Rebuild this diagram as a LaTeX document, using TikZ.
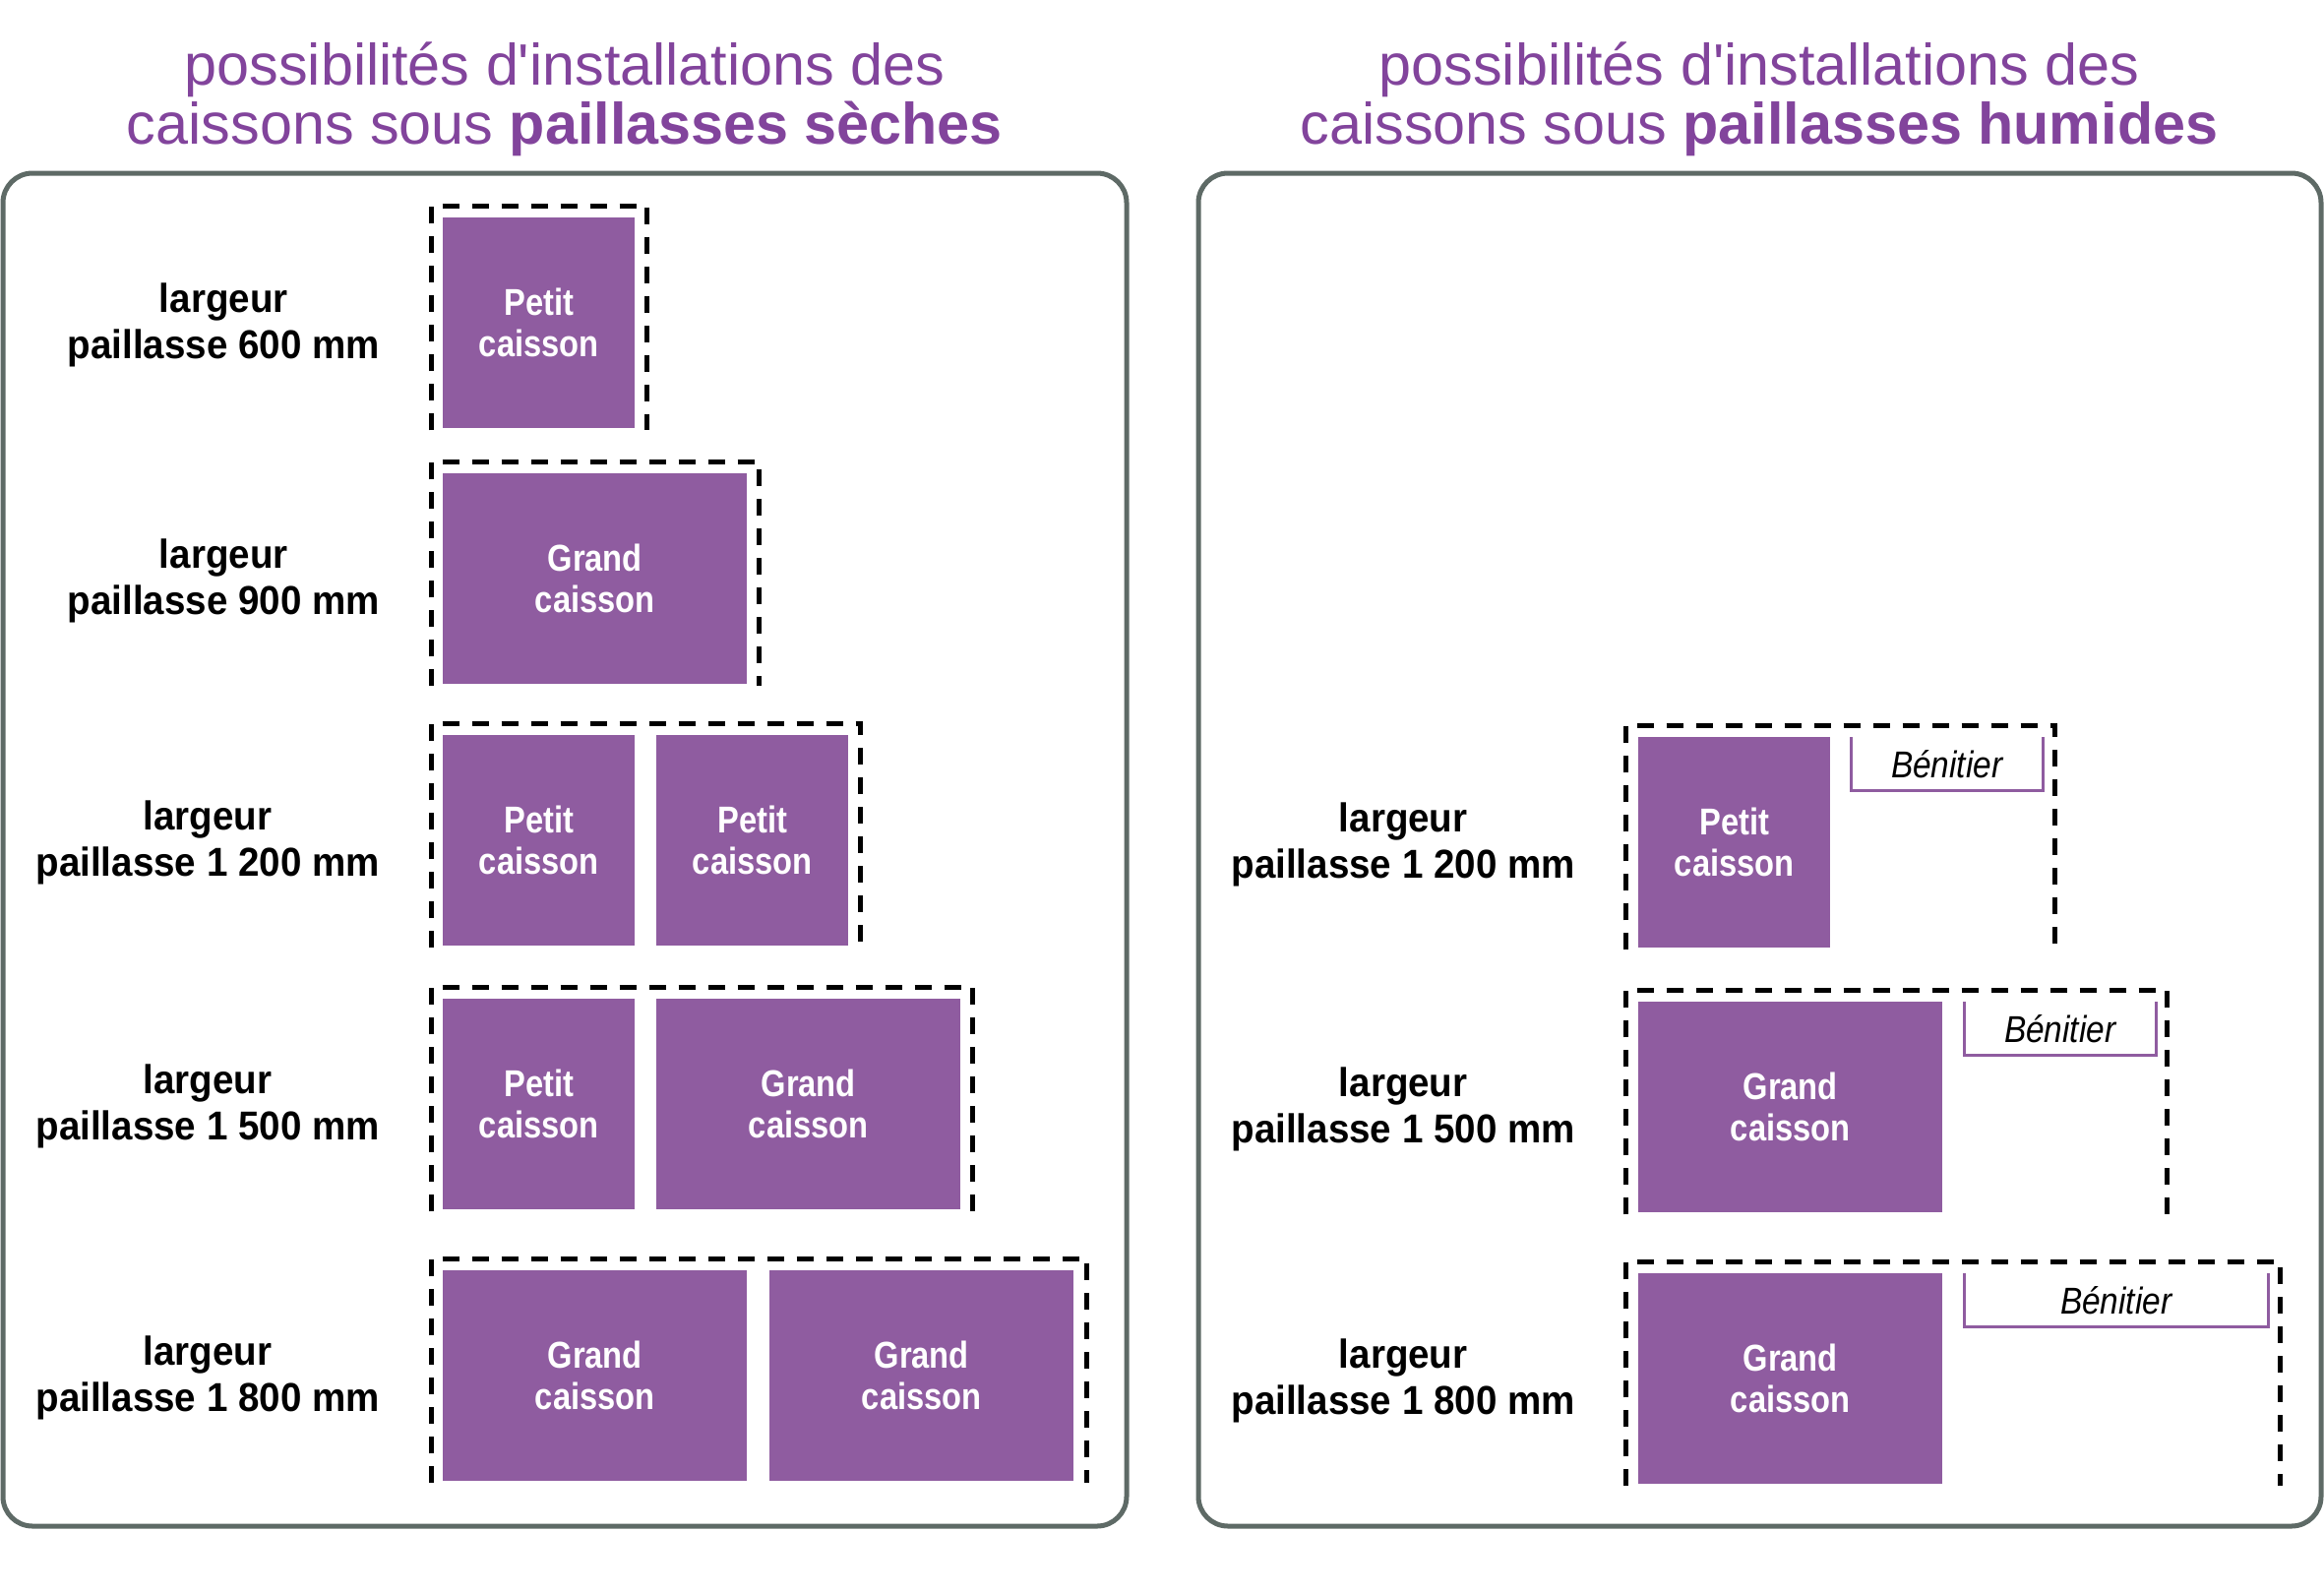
\documentclass[tikz,border=0pt]{standalone}
\usepackage{fontspec}
\setmainfont{Liberation Sans}
\newfontfamily\boxfont[FakeStretch=0.86]{Liberation Sans}
\newfontfamily\labfont[FakeStretch=0.94]{Liberation Sans}
\newfontfamily\benfont[FakeStretch=0.88]{Liberation Sans}
\usetikzlibrary{positioning}
\definecolor{caissonviolet}{HTML}{8F5CA0}
\definecolor{titreviolet}{HTML}{82449C}
\definecolor{cadregris}{HTML}{5E6A66}

\begin{document}
\begin{tikzpicture}[
  x=1pt, y=-1pt,
  titre/.style={text=titreviolet, align=center, font=\fontsize{59.3}{60}\selectfont},
  largeur/.style={anchor=east, align=center, inner sep=0pt, yshift=-7pt,
    font=\labfont\bfseries\fontsize{41}{47}\selectfont},
  cadre/.style={anchor=north west, inner sep=0pt, minimum height=228pt},
  caisson/.style={anchor=north west, fill=caissonviolet, text=white, inner sep=0pt,
    minimum height=214pt, align=center, font=\boxfont\bfseries\fontsize{38}{42}\selectfont},
  petit/.style={caisson, minimum width=195pt},
  grand/.style={caisson, minimum width=309pt},
  benitier/.style={anchor=north west, inner sep=0pt, minimum height=54pt,
    font=\benfont\itshape\fontsize{38}{40}\selectfont},
  pointilles/.style={line width=5pt, dash pattern=on 17pt off 13pt},
  bordviolet/.style={draw=caissonviolet, line width=3pt},
  panneau/.style={draw=cadregris, line width=5pt, rounded corners=30pt}
]
\useasboundingbox[fill=white] (0,0) rectangle (2362,1618);

% titres
\node[titre] (titreG) at (574,101) {possibilités d\textquotesingle installations des\\caissons sous \textbf{paillasses sèches}};
\node[titre] (titreD) at (1788,101) {possibilités d\textquotesingle installations des\\caissons sous \textbf{paillasses humides}};

\draw[panneau] (3,176) rectangle (1145,1551);
\draw[panneau] (1218,176) rectangle (2359,1551);

% paillasses seches
\node[cadre, minimum width=219pt] (f1) at (438,209) {};
\node[cadre, minimum width=333pt] (f2) at (438,469) {};
\node[cadre, minimum width=436pt] (f3) at (438,735) {};
\node[cadre, minimum width=550pt] (f4) at (438,1003) {};
\node[cadre, minimum width=666pt] (f5) at (438,1279) {};

\node[petit] (c1) at (450,221) {Petit\\caisson};
\node[grand] (c2) at (450,481) {Grand\\caisson};
\node[petit] (c3a) at (450,747) {Petit\\caisson};
\node[petit] (c3b) at (667,747) {Petit\\caisson};
\node[petit] (c4a) at (450,1015) {Petit\\caisson};
\node[grand] (c4b) at (667,1015) {Grand\\caisson};
\node[grand] (c5a) at (450,1291) {Grand\\caisson};
\node[grand] (c5b) at (782,1291) {Grand\\caisson};

\node[largeur, left=52pt of f1] (l1) {largeur\\paillasse 600 mm};
\node[largeur, left=52pt of f2] (l2) {largeur\\paillasse 900 mm};
\node[largeur, left=52pt of f3] (l3) {largeur\\paillasse 1 200 mm};
\node[largeur, left=52pt of f4] (l4) {largeur\\paillasse 1 500 mm};
\node[largeur, left=52pt of f5] (l5) {largeur\\paillasse 1 800 mm};

% paillasses humides
\node[cadre, minimum width=436pt] (f6) at (1652,737) {};
\node[cadre, minimum width=550pt] (f7) at (1652,1006) {};
\node[cadre, minimum width=665pt] (f8) at (1652,1282) {};

\node[petit] (c6) at (1665,749) {Petit\\caisson};
\node[grand] (c7) at (1665,1018) {Grand\\caisson};
\node[grand] (c8) at (1665,1294) {Grand\\caisson};

\node[benitier, minimum width=195pt] (b6) at (1881,749) {Bénitier};
\node[benitier, minimum width=195pt] (b7) at (1996,1018) {Bénitier};
\node[benitier, minimum width=309pt] (b8) at (1996,1294) {Bénitier};

\node[largeur, left=51pt of f6] (l6) {largeur\\paillasse 1 200 mm};
\node[largeur, left=51pt of f7] (l7) {largeur\\paillasse 1 500 mm};
\node[largeur, left=51pt of f8] (l8) {largeur\\paillasse 1 800 mm};

\foreach \f in {f1,f2,f3,f4,f5,f6,f7,f8}
  \draw[pointilles] (\f.south west) |- (\f.north east) -- (\f.south east);
\foreach \b in {b6,b7,b8}
  \draw[bordviolet] (\b.north west) |- (\b.south east) -- (\b.north east);

\end{tikzpicture}
\end{document}
